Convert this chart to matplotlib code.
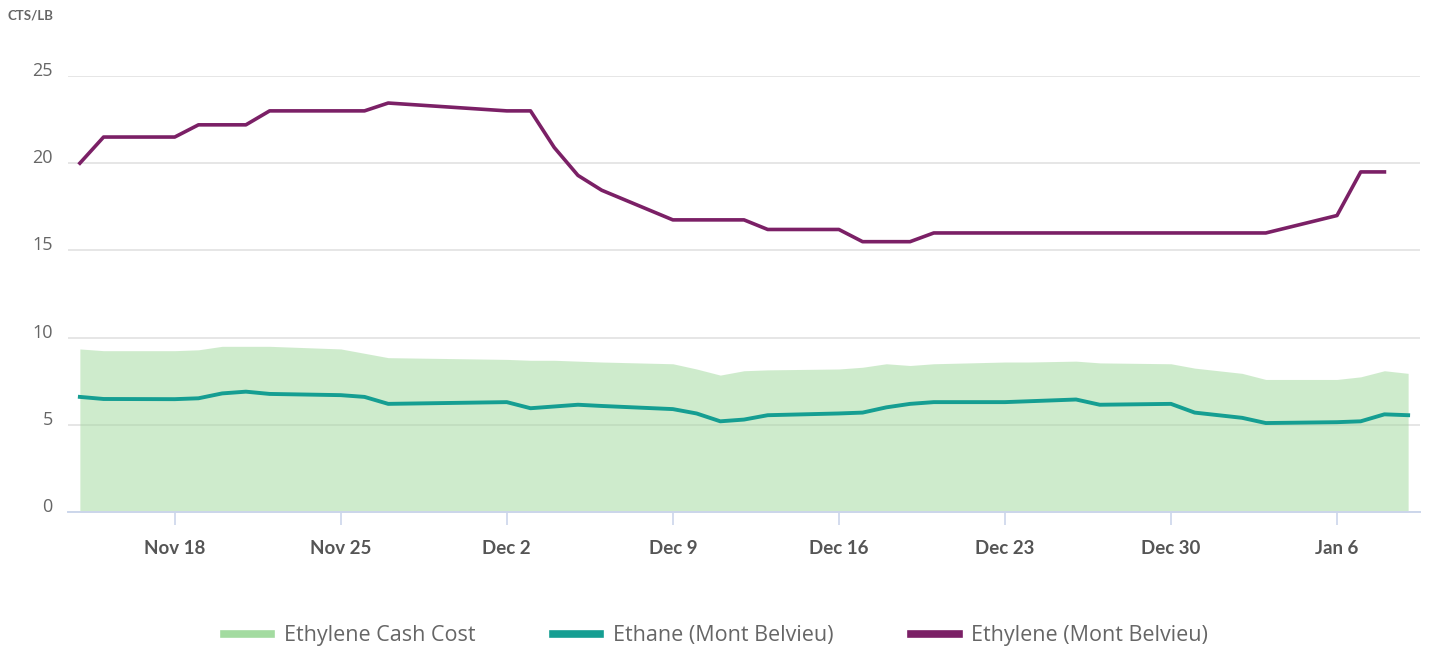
import pandas as pd
import matplotlib.pyplot as plt
import matplotlib.dates as mdates
from matplotlib.lines import Line2D
import numpy as np

# trading days shown on the chart
dates = pd.to_datetime([
    "2019-11-14", "2019-11-15", "2019-11-18", "2019-11-19", "2019-11-20", "2019-11-21",
    "2019-11-22", "2019-11-25", "2019-11-26", "2019-11-27", "2019-12-02", "2019-12-03",
    "2019-12-04", "2019-12-05", "2019-12-06", "2019-12-09", "2019-12-10", "2019-12-11",
    "2019-12-12", "2019-12-13", "2019-12-16", "2019-12-17", "2019-12-18", "2019-12-19",
    "2019-12-20", "2019-12-23", "2019-12-24", "2019-12-26", "2019-12-27", "2019-12-30",
    "2019-12-31", "2020-01-02", "2020-01-03", "2020-01-06", "2020-01-07", "2020-01-08",
    "2020-01-09",
])

cash_cost = [
    9.35, 9.25, 9.25, 9.3, 9.5, 9.5, 9.5, 9.35, 9.1, 8.85, 8.75, 8.7,
    8.7, 8.65, 8.6, 8.5, 8.2, 7.85, 8.1, 8.15, 8.2, 8.3, 8.5, 8.4,
    8.5, 8.6, 8.6, 8.65, 8.55, 8.5, 8.25, 7.95, 7.6, 7.6, 7.75, 8.1,
    7.95,
]

ethane = [
    6.6, 6.48, 6.47, 6.52, 6.8, 6.9, 6.77, 6.7, 6.6, 6.2, 6.3, 5.95,
    6.05, 6.15, 6.08, 5.9, 5.65, 5.2, 5.3, 5.55, 5.65, 5.7, 6.0, 6.2,
    6.3, 6.3, 6.35, 6.45, 6.15, 6.2, 5.7, 5.4, 5.1, 5.15, 5.2, 5.6,
    5.55,
]

ethylene = [
    20.0, 21.5, 21.5, 22.2, 22.2, 22.2, 23.0, 23.0, 23.0, 23.45, 23.0, 23.0,
    20.9, 19.3, 18.45, 16.75, 16.75, 16.75, 16.75, 16.2, 16.2, 15.5, 15.5, 15.5,
    16.0, 16.0, 16.0, 16.0, 16.0, 16.0, 16.0, 16.0, 16.0, 17.0, 19.5, 19.5,
    np.nan,
]

labels = ["Ethylene Cash Cost", "Ethane (Mont Belvieu)", "Ethylene (Mont Belvieu)"]
colors = ["#a3dba0", "#159e92", "#7b2066"]

fig = plt.figure(figsize=(14.29, 6.54), dpi=100)
ax = fig.add_axes([68 / 1429, (654 - 512) / 654, (1420 - 68) / 1429, (512 - 76) / 654])

ax.fill_between(dates, cash_cost, 0, color="#9fd89b", alpha=0.5, lw=0, zorder=2)
ax.plot(dates, ethane, color=colors[1], lw=2.8, zorder=3, solid_joinstyle="round")
ax.plot(dates, ethylene, color=colors[2], lw=2.6, zorder=3, solid_joinstyle="round")

ax.set_ylim(0, 25)
ax.set_xlim(pd.Timestamp("2019-11-13 12:00"), pd.Timestamp("2020-01-09 12:00"))

# y axis: light grid lines, labels sitting on the lines
ax.set_yticks([0, 5, 10, 15, 20, 25])
ax.yaxis.grid(True, color="#e2e2e2", lw=1.2, zorder=1)
ax.set_axisbelow(True)
ax.tick_params(axis="y", length=0, pad=11, labelsize=13, labelcolor="#666666")
for lab in ax.get_yticklabels():
    lab.set_fontfamily("Open Sans")
    lab.set_verticalalignment("baseline")

# x axis: weekly ticks on Mondays
ax.xaxis.set_major_locator(mdates.WeekdayLocator(byweekday=mdates.MO))
ax.xaxis.set_major_formatter(mdates.DateFormatter("%b %-d"))
ax.tick_params(axis="x", length=9.5, width=1.2, color="#ccd6eb", pad=11,
               labelsize=13.5, labelcolor="#555555")
for lab in ax.get_xticklabels():
    lab.set_fontfamily("Lato")
    lab.set_fontweight("bold")

for side in ["top", "right", "left"]:
    ax.spines[side].set_visible(False)
ax.spines["bottom"].set_color("#ccd6eb")
ax.spines["bottom"].set_linewidth(1.4)
ax.spines["bottom"].set_zorder(4)

fig.text(8 / 1429, 1 - 16 / 654, "CTS/LB", fontsize=9.5, fontweight="bold",
         color="#666666", family="Lato", va="center", ha="left")

handles = [Line2D([], [], color=c, lw=5.5) for c in colors]
fig.legend(handles, labels, loc="center", bbox_to_anchor=(716 / 1429, 1 - 636 / 654),
           ncol=3, frameon=False, handlelength=2.2, handletextpad=0.6, columnspacing=3.6,
           prop={"family": ["Liberation Sans Narrow", "Open Sans"], "size": 15.5},
           labelcolor="#666666")

fig.savefig("out.png", dpi=100)
